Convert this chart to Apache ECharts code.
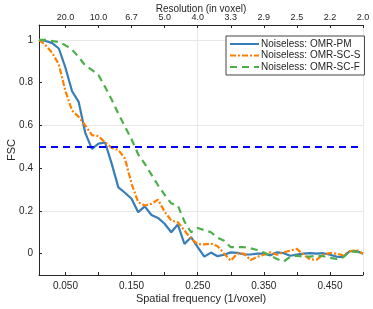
<!DOCTYPE html>
<html><head><meta charset="utf-8">
<script src="https://cdn.jsdelivr.net/npm/echarts@6/dist/echarts.min.js"></script>
<style>html,body{margin:0;padding:0;background:#fff}#c{width:373px;height:309px}</style>
</head><body><div id="c"></div>
<script>
const freq = [0.01,0.02,0.03,0.04,0.05,0.06,0.07,0.08,0.09,0.10,
              0.11,0.12,0.13,0.14,0.15,0.16,0.17,0.18,0.19,0.20,
              0.21,0.22,0.23,0.24,0.25,0.26,0.27,0.28,0.29,0.30,
              0.31,0.32,0.33,0.34,0.35,0.36,0.37,0.38,0.39,0.40,
              0.41,0.42,0.43,0.44,0.45,0.46,0.47,0.48,0.49,0.50];
const omrPM = [1.0,0.995,0.985,0.96,0.87,0.76,0.71,0.565,0.49,0.515,
               0.52,0.42,0.31,0.285,0.257,0.194,0.221,0.181,0.167,0.14,
               0.10,0.136,0.045,0.077,0.03,-0.014,0.005,-0.012,-0.005,0.006,
               0.004,-0.004,-0.004,0.0,0.0,-0.008,0.006,0.002,-0.01,-0.005,
               0.0,0.002,0.0,0.002,-0.005,-0.014,-0.016,0.012,0.012,0.0];
const omrSCS = [1.0,0.975,0.94,0.885,0.76,0.67,0.64,0.60,0.555,0.55,
                0.52,0.495,0.485,0.445,0.327,0.241,0.225,0.233,0.253,0.196,
                0.155,0.147,0.108,0.07,0.045,0.043,0.047,0.035,0.0,-0.033,
                0.0,0.0,-0.03,-0.015,-0.005,0.006,-0.005,0.006,0.014,0.022,
                -0.005,-0.027,-0.028,-0.005,0.003,0.0,-0.008,0.011,0.017,0.0];
const omrSCF = [1.0,1.0,0.995,0.99,0.975,0.955,0.92,0.88,0.86,0.835,
                0.78,0.72,0.655,0.595,0.535,0.465,0.42,0.37,0.32,0.275,
                0.235,0.225,0.15,0.10,0.12,0.11,0.10,0.075,0.06,0.03,
                0.03,0.03,0.025,0.017,0.005,-0.01,-0.025,-0.037,-0.015,-0.01,
                -0.014,-0.014,-0.01,-0.012,-0.02,-0.025,-0.017,0.011,0.008,0.005];
const threshold = 0.5;
const seriesNames = ['Noiseless: OMR-PM','Noiseless: OMR-SC-S','Noiseless: OMR-SC-F'];
const freqTicks = [0.05,0.10,0.15,0.20,0.25,0.30,0.35,0.40,0.45,0.50];
const freqLabelTicks = [0.05,0.15,0.25,0.35,0.45];
const resLabels = ['20.0','10.0','6.7','5.0','4.0','3.3','2.9','2.5','2.2','2.0'];
const yTicks = [0,0.2,0.4,0.6,0.8,1];
const yLabels = ['0','0.2','0.4','0.6','0.8','1'];

const FONT = 'Liberation Sans';
const AX = '#262626';
const GRID = '#e8e8e8';
const chart = echarts.init(document.getElementById('c'), null, {renderer:'canvas'});
const mk = (arr) => freq.map((f,i)=>[f, arr[i]]);
chart.setOption({
  animation:false,
  backgroundColor:'#fff',
  textStyle:{fontFamily:FONT},
  grid:{left:39,right:10,top:25,bottom:34,containLabel:false,outerBoundsMode:'none'},
  legend:{
    orient:'vertical', left:226, top:36,
    padding:[3,4,3,3], itemGap:1.5, itemWidth:29, itemHeight:10,
    borderColor:'#444', borderWidth:1, backgroundColor:'#fff',
    itemStyle:{opacity:0},
    textStyle:{fontFamily:FONT,fontSize:10,color:AX,padding:[0,0,0,-3]},
    data:seriesNames
  },
  xAxis:[{
    type:'value', min:0.01, max:0.5, interval:0.01, position:'bottom',
    name:'Spatial frequency (1/voxel)', nameLocation:'middle', nameGap:18, nameMoveOverlap:false,
    nameTextStyle:{fontFamily:FONT,fontSize:11,color:AX},
    axisLine:{show:true,onZero:false,lineStyle:{color:AX,width:1}},
    axisTick:{show:true,inside:true,length:3,customValues:freqTicks,lineStyle:{color:AX}},
    axisLabel:{customValues:freqLabelTicks,margin:6,fontSize:10,color:AX,fontFamily:FONT,
      formatter:(v)=>v.toFixed(3)},
    splitLine:{show:true,lineStyle:{color:['transparent','transparent','transparent','transparent',GRID],width:1}}
  },{
    type:'value', min:0.01, max:0.5, interval:0.01, position:'top',
    name:'Resolution (in voxel)', nameLocation:'middle', nameGap:11, nameMoveOverlap:false,
    nameTextStyle:{fontFamily:FONT,fontSize:10,color:AX},
    axisLine:{show:true,onZero:false,lineStyle:{color:AX,width:1}},
    axisTick:{show:true,inside:true,length:3,customValues:freqTicks,lineStyle:{color:AX}},
    axisLabel:{customValues:freqTicks,margin:3,fontSize:9,color:AX,fontFamily:FONT,
      formatter:(v)=>{const i=freqTicks.findIndex(t=>Math.abs(t-v)<1e-6);return i>=0?resLabels[i]:'';}},
    splitLine:{show:false}
  }],
  yAxis:{
    type:'value', min:-0.1, max:1.07, interval:0.1,
    name:'FSC', nameLocation:'middle', nameGap:22, nameMoveOverlap:false,
    nameTextStyle:{fontFamily:FONT,fontSize:11,color:AX},
    axisLine:{show:true,onZero:false,lineStyle:{color:AX,width:1}},
    axisTick:{show:true,inside:true,length:3,customValues:yTicks,lineStyle:{color:AX}},
    axisLabel:{customValues:yTicks,margin:6,fontSize:10,color:AX,fontFamily:FONT,
      formatter:(v)=>{const i=yTicks.findIndex(t=>Math.abs(t-v)<1e-6);return i>=0?yLabels[i]:'';}},
    splitLine:{show:true,lineStyle:{color:['transparent',GRID],width:1}}
  },
  series:[
    {name:seriesNames[0],type:'line',data:mk(omrPM),symbol:'none',z:3,
     itemStyle:{color:'#377eb8'},lineStyle:{color:'#377eb8',width:2.2,type:'solid'},
     markLine:{silent:true,symbol:['none','none'],label:{show:false},
       lineStyle:{color:'#0000ff',width:2,type:[7,5]},data:[{yAxis:threshold}]}},
    {name:seriesNames[1],type:'line',data:mk(omrSCS),symbol:'none',z:3,
     itemStyle:{color:'#ff7f00'},lineStyle:{color:'#ff7f00',width:2.2,type:[6,2,2,2]}},
    {name:seriesNames[2],type:'line',data:mk(omrSCF),symbol:'none',z:3,
     itemStyle:{color:'#4daf4a'},lineStyle:{color:'#4daf4a',width:2.2,type:[7,5]}}
  ]
});
</script></body></html>
